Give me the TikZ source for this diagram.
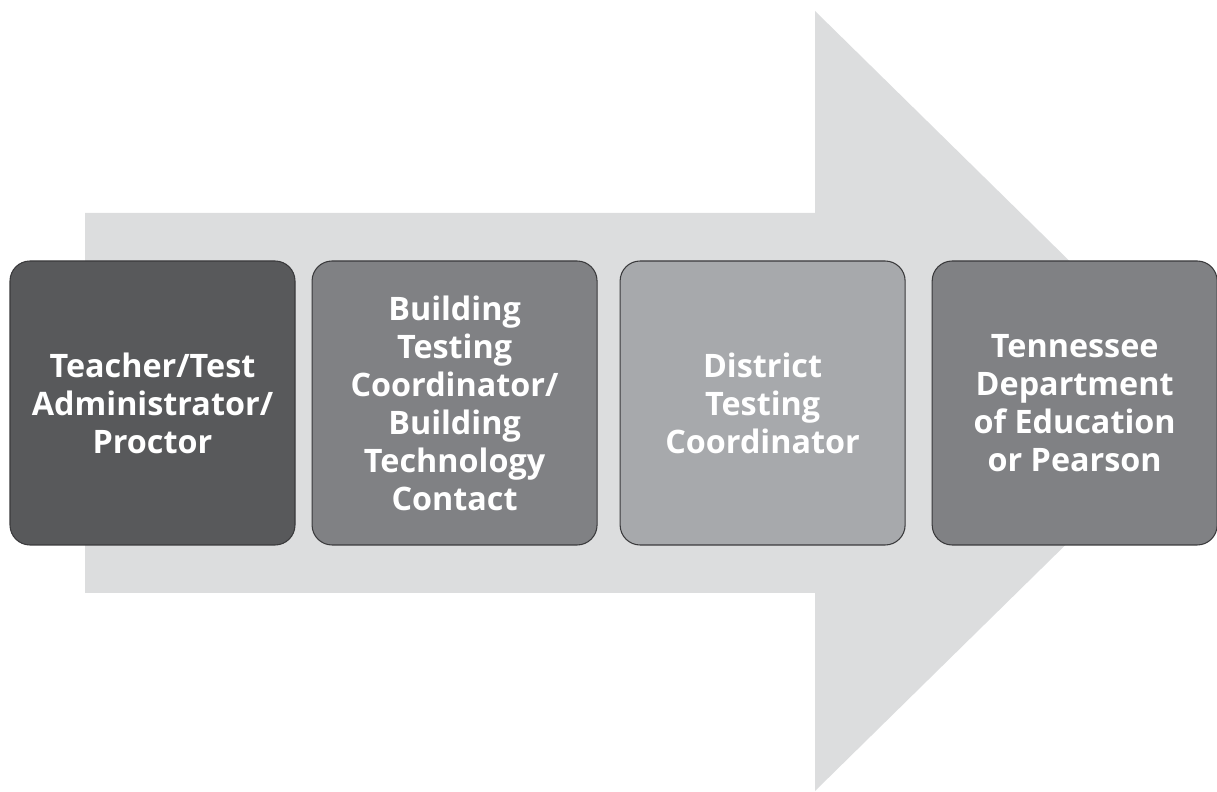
\documentclass[tikz,border=0pt]{standalone}
\usepackage{fontspec}
\setmainfont{Open Sans}
\usetikzlibrary{positioning}
\tikzset{%
  stage/.style={
    draw=boxline,
    line width=0.6pt,
    rounded corners=0.4cm,
    minimum width=5.7cm,
    minimum height=5.68cm,
    text=white,
    align=center,
    font=\bfseries\fontsize{18.4}{21.6}\selectfont
  }
}
\definecolor{arrowgray}{HTML}{DCDDDE}
\definecolor{boxline}{HTML}{3A3A3C}
\definecolor{darkgray}{HTML}{58595B}
\definecolor{midgray}{HTML}{808184}
\definecolor{lightgray}{HTML}{A7A9AC}

\begin{document}
\begin{tikzpicture}
		\useasboundingbox (0,0) rectangle (24.34,15.82);
		% big arrow
		\fill[arrowgray] (1.7,11.56) -- (16.3,11.56) -- (16.3,15.6) -- (24.24,7.8)
			-- (16.3,0) -- (16.3,3.96) -- (1.7,3.96) -- cycle;
		% stages
		\node[stage, fill=darkgray] (teacher) at (3.05,7.76) {Teacher/Test\\Administrator/\\Proctor};
		\node[stage, fill=midgray, right=0.32cm of teacher] (building) {Building\\Testing\\Coordinator/\\Building\\Technology\\Contact};
		\node[stage, fill=lightgray, right=0.44cm of building] (district) {District\\Testing\\Coordinator};
		\node[stage, fill=midgray, right=0.52cm of district] (tdoe) {Tennessee\\Department\\of Education\\or Pearson};
	\end{tikzpicture}
\end{document}
